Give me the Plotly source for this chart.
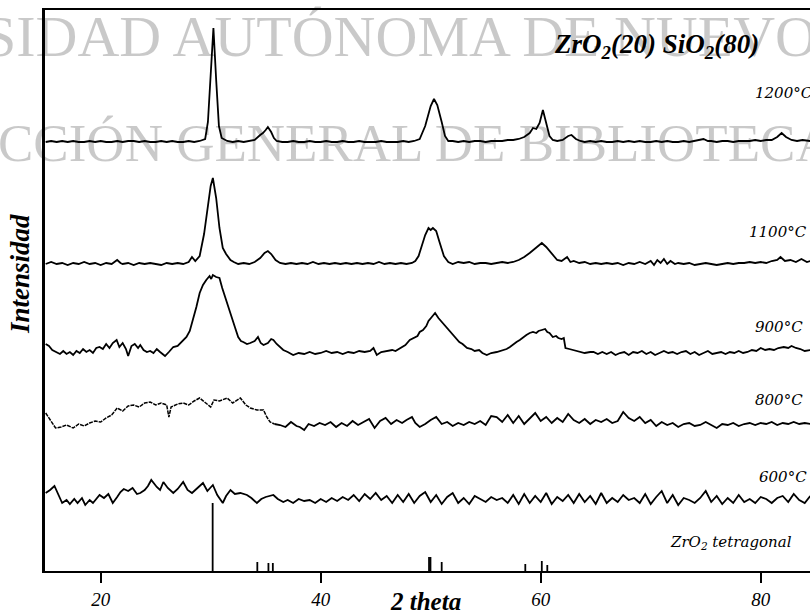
import plotly.graph_objects as go

# ---------------- data (2-theta, intensity above each pattern's own baseline) -------------
s1200 = [(15.0,0),(15.5,1),(16.0,0),(16.5,1),(17.0,0),(17.5,1),(18.0,0),(18.5,0),(19.0,1),(19.5,0),
         (20.0,1),(20.5,0),(21.0,0),(21.5,1),(22.0,0),(22.5,1),(23.0,1),(23.5,0),(24.0,1),(24.5,0),
         (25.0,0),(25.5,1),(26.0,0),(26.5,1),(27.0,0),(27.5,0),(28.0,1),(28.5,0),(29.0,1),(29.5,3),
         (29.75,20),(30.0,72),(30.25,114),(30.5,62),(30.75,16),(31.0,4),(31.5,1),(32.0,0),(32.5,1),
         (33.0,0),(33.5,1),(34.0,2),(34.5,7),(34.75,9),(35.0,12),(35.2,15),(35.5,10),(35.75,4),(36.0,1),
         (36.5,0),(37.0,0),(37.5,1),(38.0,0),(38.5,0),(39.0,1),(39.5,0),(40.0,0),(40.5,1),(41.0,0),
         (41.5,0),(42.0,1),(42.5,0),(43.0,0),(43.5,1),(44.0,0),(44.5,0),(45.0,0),(45.5,1),(46.0,0),
         (46.5,0),(47.0,0),(47.5,1),(48.0,0),(48.5,1),(49.0,3),(49.5,16),(50.0,36),(50.3,43),(50.6,37),
         (51.0,20),(51.3,6),(51.6,1),(52.0,1),(52.5,0),(53.0,1),(53.5,0),(54.0,1),(54.5,1),(55.0,0),
         (55.5,1),(56.0,1),(56.5,1),(57.0,2),(57.5,2),(58.0,3),(58.5,5),(59.0,9),(59.3,14),(59.6,13),
         (59.9,19),(60.2,32),(60.5,18),(60.8,6),(61.1,2),(61.5,1),(62.0,2),(62.5,6),(62.8,7),(63.2,3),
         (63.6,1),(64.0,0),(64.5,1),(65.0,0),(65.5,1),(66.0,0),(66.5,0),(67.0,1),(67.5,0),(68.0,1),
         (68.5,0),(69.0,1),(69.5,0),(70.0,0),(70.5,1),(71.0,0),(71.5,1),(72.0,0),(72.5,0),(73.0,1),
         (73.5,0),(74.0,1),(74.5,2),(74.8,3),(75.2,1),(75.5,1),(76.0,0),(76.5,1),(77.0,1),(77.5,0),
         (78.0,1),(78.5,1),(79.0,1),(79.5,2),(80.0,1),(80.5,2),(81.0,2),(81.5,5),(81.9,9),(82.3,5),
         (82.8,2),(83.3,1),(83.8,2),(84.5,1)]

s1100 = [(15.0,0),(15.5,2),(16.0,0),(16.5,1),(17.0,-1),(17.5,1),(18.0,0),(18.5,2),(19.0,0),(19.5,1),
         (20.0,-1),(20.5,1),(21.0,0),(21.3,2),(21.5,4),(21.8,1),(22.0,0),(22.5,1),(23.0,-1),(23.5,1),
         (24.0,0),(24.5,1),(25.0,0),(25.5,-1),(26.0,1),(26.5,0),(27.0,1),(27.5,0),(28.0,2),(28.3,7),
         (28.6,3),(29.0,8),(29.4,30),(29.7,55),(30.0,78),(30.2,86),(30.5,66),(30.8,36),(31.1,16),
         (31.4,10),(31.8,4),(32.1,2),(32.5,0),(33.0,1),(33.5,0),(34.0,2),(34.5,6),(34.9,11),(35.2,13),
         (35.5,10),(35.9,4),(36.3,1),(36.8,0),(37.3,1),(37.8,0),(38.3,1),(38.8,0),(39.3,2),(39.8,0),
         (40.3,1),(40.8,0),(41.3,1),(41.8,0),(42.3,1),(42.8,0),(43.3,1),(43.8,0),(44.3,1),(44.8,0),
         (45.3,2),(45.8,0),(46.3,1),(46.8,0),(47.3,1),(47.8,0),(48.3,1),(48.6,3),(48.9,8),(49.2,18),
         (49.5,29),(49.8,36),(50.0,34),(50.2,36),(50.5,33),(50.8,22),(51.2,8),(51.6,2),(52.0,0),
         (52.5,2),(53.0,1),(53.5,2),(54.0,0),(54.5,1),(55.0,1),(55.5,0),(56.0,1),(56.5,2),(57.0,1),
         (57.5,2),(58.0,4),(58.5,7),(59.0,11),(59.5,16),(60.1,21),(60.5,17),(61.0,10),(61.5,4),
         (61.9,3),(62.2,5),(62.4,7),(62.7,2),(63.0,3),(63.5,1),(64.0,2),(64.5,0),(65.0,1),(65.5,0),
         (66.0,1),(66.5,0),(67.0,1),(67.5,-1),(68.0,1),(68.5,0),(69.0,2),(69.5,0),(70.0,3),(70.3,-1),
         (70.6,4),(70.9,1),(71.2,5),(71.5,0),(71.8,3),(72.2,0),(72.5,1),(73.0,0),(73.5,1),(74.0,-1),
         (74.5,0),(75.0,1),(75.5,0),(76.0,-1),(76.5,0),(77.0,1),(77.5,0),(78.0,1),(78.5,1),(79.0,2),
         (79.5,1),(80.0,2),(80.5,1),(81.0,3),(81.5,4),(81.8,7),(82.2,3),(82.7,4),(83.2,2),(83.7,5),
         (84.2,2),(84.5,3)]

s900 = [(15.0,9),(15.3,7),(15.6,3),(16.0,1),(16.3,-1),(16.6,2),(16.9,-1),(17.2,1),(17.5,-2),(17.8,2),
        (18.1,0),(18.4,4),(18.7,1),(19.0,3),(19.3,0),(19.6,5),(19.9,6),(20.2,4),(20.5,9),(20.8,5),
        (21.1,10),(21.45,13),(21.7,6),(22.0,10),(22.3,4),(22.5,-3),(22.8,7),(23.1,9),(23.4,5),(23.6,8),
        (23.9,3),(24.2,1),(24.5,2),(24.8,0),(25.1,4),(25.4,1),(25.85,-3),(26.2,1),(26.6,6),(27.0,7),
        (27.4,11),(27.8,16),(28.1,22),(28.4,33),(28.7,46),(29.0,60),(29.3,68),(29.6,73),(29.9,77),
        (30.05,74),(30.2,78),(30.5,76),(30.8,75),(31.05,65),(31.3,56),(31.6,46),(31.9,36),(32.2,26),
        (32.5,16),(32.75,12),(32.96,11),(33.3,9),(33.6,10),(34.0,12),(34.3,16),(34.55,10),(34.8,8),
        (35.2,10),(35.5,14),(35.7,13),(36.0,9),(36.3,6),(36.6,3),(37.0,1),(37.5,-2),(38.0,0),(38.5,-1),
        (39.0,1),(39.5,-1),(40.0,0),(40.5,2),(41.0,0),(41.5,1),(42.0,-1),(42.5,1),(43.0,0),(43.5,2),
        (44.0,1),(44.5,2),(44.8,5),(45.1,-2),(45.5,1),(46.0,2),(46.5,3),(46.8,2),(47.2,5),(47.7,8),
        (48.1,13),(48.5,15),(48.8,17),(49.0,21),(49.3,23),(49.6,27),(49.8,32),(50.1,36),(50.4,40),
        (50.7,35),(51.1,30),(51.5,24),(51.8,21),(52.0,18),(52.3,14),(52.6,11),(52.9,9),(53.3,5),
        (53.7,4),(54.0,2),(54.4,3),(54.7,0),(55.1,-2),(55.5,0),(56.0,1),(56.5,3),(56.9,4),(57.2,6),
        (57.5,9),(57.8,11),(58.1,13),(58.4,16),(58.7,18),(59.0,20),(59.3,21),(59.6,20),(59.8,22),
        (60.1,23),(60.4,24),(60.6,21),(60.8,20),(61.1,16),(61.4,17),(61.6,15),(61.9,14),(62.1,15),
        (62.25,5),(62.6,4),(63.0,3),(63.5,2),(64.0,0),(64.5,1),(64.8,1),(65.2,-1),(65.6,1),(66.0,-1),
        (66.4,1),(66.8,-2),(67.2,0),(67.6,1),(68.0,-2),(68.4,1),(68.8,0),(69.2,2),(69.6,-1),(70.0,1),
        (70.4,-2),(70.8,0),(71.2,2),(71.6,0),(72.0,1),(72.4,-1),(72.8,1),(73.2,2),(73.6,-1),(74.0,1),
        (74.4,-2),(74.8,0),(75.2,2),(75.6,-1),(76.0,0),(76.4,1),(76.8,-1),(77.2,1),(77.6,0),(78.0,2),
        (78.4,0),(78.8,1),(79.2,3),(79.6,2),(80.0,5),(80.4,3),(80.8,4),(81.2,3),(81.6,5),(82.1,6),
        (82.5,5),(82.8,7),(83.2,5),(83.6,4),(84.0,2),(84.5,3)]

# 800 C: amorphous hump (broken trace in the scan) followed by noisy baseline
s800_hump = [(15.0,12),(15.4,5),(15.9,-3),(16.4,-2),(16.9,0),(17.5,-3),(18.0,1),(18.5,-1),(19.0,2),
             (19.5,4),(20.0,3),(20.5,7),(21.0,10),(21.5,17),(22.0,14),(22.5,19),(23.0,20),(23.5,18),
             (24.0,22),(24.5,23),(25.0,20),(25.5,22),(26.0,20),(26.2,8),(26.4,18),(27.0,21),(27.5,22),
             (28.0,20),(28.5,24),(29.0,27),(29.5,22),(30.0,18),(30.3,25),(30.8,24),(31.5,27),(32.0,22),
             (32.7,27),(33.2,20),(33.6,17),(34.2,15),(34.8,15),(35.1,8),(35.4,3),(35.8,1)]
s800_tail = [(35.8,1),(36.3,0),(36.8,-2),(37.3,3),(37.8,-1),(38.1,-2),(38.5,-5),(38.9,1),(39.4,-1),
             (39.9,2),(40.4,0),(40.9,3),(41.4,-2),(41.9,2),(42.4,-1),(42.9,4),(43.4,0),(43.9,3),(44.4,6),
             (44.9,-3),(45.4,4),(45.9,7),(46.4,1),(46.9,5),(47.4,2),(47.8,5),(48.3,8),(48.6,2),(49.0,-2),
             (49.5,1),(50.0,5),(50.5,8),(51.0,1),(51.5,3),(52.0,-1),(52.5,2),(53.0,0),(53.5,3),(54.0,1),
             (54.5,4),(55.0,0),(55.5,9),(56.0,8),(56.5,3),(57.0,10),(57.5,2),(58.0,9),(58.5,1),(59.0,6),
             (59.5,12),(60.0,4),(60.5,8),(61.0,2),(61.5,7),(62.0,3),(62.5,11),(63.0,5),(63.5,2),(64.0,6),
             (64.5,1),(65.0,5),(65.5,3),(66.0,6),(66.5,2),(67.0,4),(67.5,13),(68.0,7),(68.5,4),(69.0,8),
             (69.5,2),(70.0,5),(70.5,-1),(71.0,3),(71.5,0),(72.0,2),(72.5,-2),(73.0,1),(73.5,2),(74.0,-1),
             (74.5,0),(75.0,3),(75.5,0),(76.0,-3),(76.5,1),(77.0,0),(77.5,2),(78.0,-1),(78.5,1),(79.0,2),
             (79.5,0),(80.0,2),(80.5,1),(81.0,3),(81.5,0),(82.0,2),(82.5,1),(83.0,3),(83.5,1),(84.0,2),
             (84.5,1)]

s600 = [(15.0,7),(15.4,10),(15.8,14),(16.2,4),(16.5,-3),(16.9,0),(17.2,-4),(17.6,1),(17.9,-3),(18.3,2),
        (18.6,-5),(19.0,0),(19.3,-3),(19.9,5),(20.3,2),(20.7,6),(21.1,-3),(21.5,3),(21.8,8),(22.1,11),
        (22.5,9),(22.9,12),(23.3,6),(23.6,7),(24.0,10),(24.3,14),(24.6,20),(25.1,13),(25.4,10),(25.7,18),
        (26.1,12),(26.6,7),(27.0,11),(27.5,18),(27.9,10),(28.3,7),(28.8,12),(29.3,17),(29.7,9),(30.2,15),
        (30.6,5),(31.1,-3),(31.4,4),(31.8,10),(32.2,6),(32.7,7),(33.3,5),(33.7,2),(34.2,-3),(34.6,1),
        (35.0,3),(35.7,5),(36.1,1),(36.6,-2),(37.0,0),(37.5,-3),(38.0,1),(38.5,-1),(39.0,0),(39.5,-3),
        (40.0,1),(40.5,-2),(41.0,2),(41.5,-1),(42.0,3),(42.5,0),(43.0,5),(43.5,-1),(44.0,6),(44.5,1),
        (45.0,7),(45.5,0),(46.0,4),(46.5,-3),(47.0,5),(47.5,-2),(48.0,6),(48.5,-3),(49.0,4),(49.5,8),
        (50.0,-2),(50.5,5),(51.0,-4),(51.5,3),(52.0,7),(52.5,-3),(53.0,2),(53.5,-4),(54.0,4),(54.5,1),
        (55.0,-2),(55.5,3),(56.0,0),(56.5,2),(57.0,-3),(57.5,5),(58.0,-4),(58.5,6),(59.0,-3),(59.5,4),
        (60.0,-2),(60.5,7),(61.0,-4),(61.5,3),(62.0,-1),(62.5,5),(63.0,-3),(63.5,6),(64.0,-2),(64.5,4),
        (65.0,-4),(65.5,7),(66.0,-3),(66.5,2),(67.0,-2),(67.5,5),(68.0,0),(68.5,2),(69.0,-3),(69.5,6),
        (70.0,-4),(70.5,3),(71.0,9),(71.5,-3),(72.0,5),(72.5,-5),(73.0,2),(73.5,0),(74.0,-3),(74.5,2),
        (75.0,9),(75.5,-2),(76.0,4),(76.5,-4),(77.0,2),(77.5,-3),(78.0,5),(78.5,-2),(79.0,1),(79.5,-3),
        (80.0,3),(80.5,1),(81.0,-3),(81.5,2),(82.0,4),(82.5,-2),(83.0,6),(83.5,0),(84.0,-3),(84.5,4)]

# vertical offsets of the stacked patterns
offsets = {"1200": 429, "1100": 307, "900": 218, "800": 146, "600": 71}
labels = ["1200°C", "1100°C", "900°C", "800°C", "600°C"]

# ZrO2 tetragonal reference lines
tetra_tt = [30.18, 34.24, 35.25, 35.65, 49.85, 49.98, 51.0, 58.6, 60.1, 60.6]
tetra_i = [68, 9, 8, 8, 14, 14, 9, 7, 10, 6]

xticks = [20, 40, 60, 80]

# ---------------- figure ----------------
W, H = 810, 615
ML, MR, MT, MB = 45, 0, 10, 44
XR = [14.94, 84.48]
YR = [0, 561]

def px(x):
    return (x - ML) / (W - ML - MR)

def py(y):
    return (H - MB - y) / (H - MB - MT)

fig = go.Figure()

def add_series(pairs, off, dash="solid", width=1.8):
    xs = [p[0] for p in pairs]
    ys = [p[1] + off for p in pairs]
    fig.add_trace(go.Scatter(x=xs, y=ys, mode="lines",
                             line=dict(color="black", width=width, dash=dash),
                             hoverinfo="skip", showlegend=False))

add_series(s1200, offsets["1200"])
add_series(s1100, offsets["1100"])
add_series(s900, offsets["900"])
add_series(s800_hump, offsets["800"], dash="4px,1px", width=1.5)
add_series(s800_tail, offsets["800"])
add_series(s600, offsets["600"])

sx, sy = [], []
for t, h in zip(tetra_tt, tetra_i):
    sx += [t, t, None]
    sy += [0, h, None]
fig.add_trace(go.Scatter(x=sx, y=sy, mode="lines", line=dict(color="black", width=1.8),
                         hoverinfo="skip", showlegend=False))

serif = "Liberation Serif"
ann = []
wm = "rgba(0,0,0,0.21)"
ann.append(dict(x=px(-18), y=py(36), text="SIDAD AUTÓNOMA DE NUEVO",
                font=dict(family=serif, size=58, color=wm)))
ann.append(dict(x=px(-4), y=py(143), text="CCIÓN GENERAL DE BIBLIOTECAS",
                font=dict(family=serif, size=53, color=wm)))
ann.append(dict(x=px(552), y=py(46), text="ZrO<sub>2</sub>(20) SiO<sub>2</sub>(80)",
                font=dict(family=serif, size=27, color="black", style="italic", weight="bold")))
lab_pos = [(753, 93), (747, 232), (753, 327), (753, 400), (757, 477)]
for t, (lx, ly) in zip(labels, lab_pos):
    ann.append(dict(x=px(lx), y=py(ly), text=t,
                    font=dict(family="DejaVu Serif", size=15, color="black", style="italic")))
ann.append(dict(x=px(668), y=py(542), text="ZrO<sub>2</sub> tetragonal",
                font=dict(family="DejaVu Serif", size=15, color="black", style="italic")))
for a in ann:
    a.update(xref="paper", yref="paper", xanchor="left", yanchor="middle", showarrow=False)

ann.append(dict(x=px(20), y=py(274), xref="paper", yref="paper", text="Intensidad",
                textangle=-90, showarrow=False, xanchor="center", yanchor="middle",
                font=dict(family=serif, size=27, color="black", style="italic", weight="bold")))
ann.append(dict(x=px(425), y=py(601), xref="paper", yref="paper", text="2 theta",
                showarrow=False, xanchor="center", yanchor="middle",
                font=dict(family=serif, size=25, color="black", style="italic", weight="bold")))

fig.update_layout(
    width=W, height=H, autosize=False,
    margin=dict(l=ML, r=MR, t=MT, b=MB, pad=0),
    paper_bgcolor="white", plot_bgcolor="white",
    annotations=ann,
    xaxis=dict(range=XR, showgrid=False, zeroline=False, showline=True, linecolor="black",
               linewidth=2, mirror=True, ticks="outside", ticklen=10, tickwidth=2,
               tickcolor="black", tickvals=xticks, ticktext=[str(v) for v in xticks],
               tickfont=dict(family=serif, size=19, color="black", style="italic"),
               ticklabelstandoff=0),
    yaxis=dict(range=YR, showgrid=False, zeroline=False, showline=True, linecolor="black",
               linewidth=3, showticklabels=False, ticks=""),
)

fig.write_html("out.html", config={"displayModeBar": False},
               post_script="document.body.style.margin='0';document.body.style.overflow='hidden';")
